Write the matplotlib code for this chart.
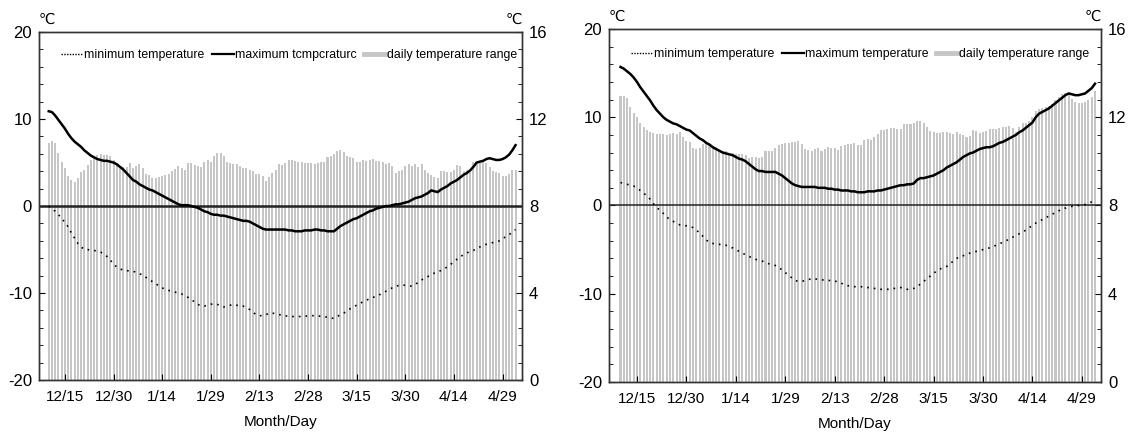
import matplotlib
matplotlib.use('Agg')
import matplotlib.pyplot as plt
from matplotlib.lines import Line2D
from matplotlib.ticker import MultipleLocator

plt.rcParams['font.family'] = ['Liberation Sans', 'DejaVu Sans']
plt.rcParams['axes.unicode_minus'] = False

# Days counted from 12/10 (day 0) to 5/3 (day 144)
tick_days = [5, 20, 35, 50, 65, 80, 95, 110, 125, 140]
tick_labels = ['12/15', '12/30', '1/14', '1/29', '2/13', '2/28', '3/15', '3/30', '4/14', '4/29']

# Left station
left_tmax = [10.9, 10.8, 10.4, 9.9, 9.4, 8.9, 8.3, 7.8, 7.4, 7.1,
             6.8, 6.4, 6.1, 5.8, 5.6, 5.4, 5.3, 5.2, 5.2, 5.1,
             5.0, 4.8, 4.5, 4.2, 3.8, 3.4, 3.0, 2.8, 2.5, 2.3,
             2.1, 1.9, 1.8, 1.6, 1.4, 1.2, 1.0, 0.8, 0.6, 0.4,
             0.2, 0.1, 0.1, 0.1, 0.0, -0.1, -0.2, -0.4, -0.6, -0.7,
             -0.9, -1.0, -1.0, -1.1, -1.1, -1.2, -1.3, -1.4, -1.5, -1.6,
             -1.7, -1.7, -1.8, -2.0, -2.2, -2.4, -2.6, -2.7, -2.7, -2.7,
             -2.7, -2.7, -2.7, -2.7, -2.8, -2.8, -2.9, -2.9, -2.9, -2.8,
             -2.8, -2.8, -2.7, -2.7, -2.8, -2.8, -2.9, -2.9, -2.9, -2.6,
             -2.3, -2.1, -1.9, -1.7, -1.5, -1.4, -1.2, -1.0, -0.8, -0.6,
             -0.5, -0.3, -0.2, -0.1, 0.0, 0.0, 0.1, 0.2, 0.2, 0.3,
             0.4, 0.5, 0.7, 0.9, 1.0, 1.1, 1.3, 1.5, 1.8, 1.7,
             1.6, 1.9, 2.1, 2.3, 2.6, 2.8, 3.0, 3.3, 3.6, 3.8,
             4.1, 4.5, 5.0, 5.1, 5.2, 5.4, 5.5, 5.4, 5.3, 5.3,
             5.4, 5.6, 5.9, 6.4, 7.0]
left_tmin = [0.0, -0.3, -0.6, -1.0, -1.4, -1.9, -2.4, -3.1, -3.7, -4.3,
             -4.7, -5.0, -5.0, -5.1, -5.1, -5.2, -5.3, -5.5, -5.8, -6.2,
             -6.7, -7.0, -7.2, -7.4, -7.4, -7.5, -7.5, -7.6, -7.8, -7.9,
             -8.2, -8.4, -8.7, -8.9, -9.2, -9.4, -9.6, -9.7, -9.8, -9.9,
             -10.0, -10.1, -10.3, -10.5, -10.8, -11.0, -11.3, -11.5, -11.5, -11.4,
             -11.3, -11.2, -11.3, -11.5, -11.6, -11.5, -11.4, -11.3, -11.4, -11.5,
             -11.5, -11.7, -11.9, -12.2, -12.5, -12.6, -12.6, -12.5, -12.3, -12.3,
             -12.4, -12.5, -12.5, -12.6, -12.7, -12.7, -12.7, -12.7, -12.7, -12.7,
             -12.6, -12.6, -12.6, -12.6, -12.7, -12.7, -12.8, -12.9, -12.9, -12.7,
             -12.5, -12.3, -12.1, -11.8, -11.6, -11.4, -11.2, -11.0, -10.8, -10.7,
             -10.5, -10.4, -10.2, -10.0, -9.8, -9.6, -9.4, -9.3, -9.1, -9.1,
             -9.1, -9.2, -9.2, -9.0, -8.8, -8.5, -8.3, -8.1, -7.9, -7.7,
             -7.6, -7.4, -7.2, -7.0, -6.7, -6.4, -6.1, -5.8, -5.6, -5.4,
             -5.2, -5.1, -4.9, -4.7, -4.5, -4.4, -4.3, -4.2, -4.1, -4.0,
             -3.8, -3.5, -3.3, -3.0, -2.7]
left_range = [10.88, 11.0, 10.88, 10.44, 10.04, 9.76, 9.36, 9.2, 9.12, 9.28,
              9.56, 9.68, 9.88, 10.12, 10.28, 10.36, 10.4, 10.36, 10.36, 10.28,
              10.12, 10.0, 9.84, 9.8, 9.8, 10.0, 9.76, 9.84, 9.92, 9.76,
              9.48, 9.44, 9.28, 9.28, 9.32, 9.36, 9.44, 9.48, 9.6, 9.72,
              9.84, 9.76, 9.68, 10.0, 10.0, 9.88, 9.84, 9.8, 10.04, 10.12,
              10.04, 10.28, 10.44, 10.44, 10.28, 10.04, 10.0, 9.92, 9.92, 9.84,
              9.76, 9.76, 9.68, 9.6, 9.48, 9.48, 9.4, 9.16, 9.32, 9.52,
              9.68, 9.92, 9.88, 10.0, 10.12, 10.12, 10.08, 10.04, 10.04, 10.0,
              10.0, 10.0, 9.92, 10.0, 10.04, 10.04, 10.24, 10.28, 10.4, 10.52,
              10.56, 10.48, 10.32, 10.24, 10.2, 10.04, 10.04, 10.12, 10.08, 10.12,
              10.16, 10.08, 10.08, 10.04, 9.92, 10.0, 9.84, 9.52, 9.6, 9.68,
              9.84, 9.92, 9.84, 9.92, 9.8, 9.92, 9.64, 9.52, 9.44, 9.32,
              9.28, 9.6, 9.6, 9.56, 9.56, 9.64, 9.88, 9.84, 9.6, 9.68,
              9.68, 10.04, 10.04, 10.0, 10.04, 10.0, 9.8, 9.6, 9.56, 9.52,
              9.4, 9.4, 9.48, 9.64, 9.64]

# Right station
right_tmax = [15.7, 15.5, 15.2, 14.9, 14.5, 14.0, 13.4, 12.9, 12.4, 11.9,
              11.3, 10.8, 10.4, 10.0, 9.7, 9.5, 9.3, 9.2, 9.0, 8.8,
              8.6, 8.5, 8.2, 7.9, 7.6, 7.4, 7.1, 6.9, 6.6, 6.4,
              6.2, 6.0, 5.9, 5.8, 5.7, 5.5, 5.3, 5.2, 5.0, 4.7,
              4.4, 4.1, 3.9, 3.9, 3.8, 3.8, 3.8, 3.8, 3.6, 3.4,
              3.1, 2.8, 2.5, 2.3, 2.2, 2.1, 2.1, 2.1, 2.1, 2.1,
              2.0, 2.0, 2.0, 1.9, 1.9, 1.8, 1.8, 1.7, 1.7, 1.7,
              1.6, 1.6, 1.5, 1.5, 1.5, 1.6, 1.6, 1.6, 1.7, 1.7,
              1.8, 1.9, 2.0, 2.1, 2.2, 2.3, 2.3, 2.4, 2.4, 2.5,
              2.9, 3.1, 3.1, 3.2, 3.3, 3.4, 3.6, 3.8, 4.0, 4.3,
              4.5, 4.7, 4.9, 5.2, 5.5, 5.7, 5.9, 6.0, 6.2, 6.4,
              6.5, 6.6, 6.6, 6.7, 6.9, 7.1, 7.2, 7.4, 7.6, 7.8,
              8.0, 8.3, 8.5, 8.8, 9.1, 9.4, 10.0, 10.4, 10.6, 10.8,
              11.0, 11.3, 11.6, 11.9, 12.2, 12.5, 12.7, 12.6, 12.5, 12.5,
              12.6, 12.7, 13.0, 13.3, 13.8]
right_tmin = [2.6, 2.5, 2.4, 2.3, 2.2, 2.0, 1.7, 1.4, 1.1, 0.7,
              0.2, -0.2, -0.6, -0.9, -1.3, -1.6, -1.8, -2.0, -2.2, -2.3,
              -2.3, -2.4, -2.5, -2.8, -3.1, -3.5, -3.9, -4.2, -4.3, -4.4,
              -4.4, -4.5, -4.5, -4.7, -4.8, -5.0, -5.2, -5.4, -5.6, -5.8,
              -5.9, -6.1, -6.2, -6.3, -6.5, -6.6, -6.7, -6.8, -7.0, -7.3,
              -7.6, -7.9, -8.2, -8.5, -8.6, -8.6, -8.5, -8.4, -8.3, -8.3,
              -8.4, -8.4, -8.5, -8.5, -8.5, -8.6, -8.6, -8.8, -9.0, -9.1,
              -9.1, -9.2, -9.2, -9.2, -9.3, -9.3, -9.3, -9.4, -9.4, -9.5,
              -9.5, -9.5, -9.5, -9.4, -9.4, -9.3, -9.4, -9.5, -9.5, -9.4,
              -9.2, -8.9, -8.6, -8.3, -8.0, -7.7, -7.4, -7.2, -7.0, -6.9,
              -6.6, -6.3, -6.0, -5.8, -5.7, -5.5, -5.4, -5.3, -5.2, -5.1,
              -5.0, -4.9, -4.8, -4.7, -4.5, -4.3, -4.2, -4.0, -3.8, -3.6,
              -3.4, -3.2, -3.0, -2.8, -2.5, -2.3, -2.0, -1.8, -1.6, -1.4,
              -1.2, -1.0, -0.8, -0.6, -0.4, -0.3, -0.2, -0.1, 0.0, 0.0,
              0.1, 0.1, 0.3, 0.4, 0.5]
right_range = [12.98, 12.98, 12.88, 12.48, 12.18, 12.0, 11.76, 11.56, 11.44, 11.32,
               11.28, 11.24, 11.24, 11.24, 11.2, 11.24, 11.28, 11.24, 11.32, 11.12,
               10.94, 10.88, 10.6, 10.56, 10.6, 10.8, 10.92, 10.8, 10.68, 10.64,
               10.52, 10.48, 10.48, 10.4, 10.36, 10.34, 10.34, 10.32, 10.28, 10.16,
               10.2, 10.2, 10.16, 10.2, 10.46, 10.46, 10.48, 10.6, 10.72, 10.8,
               10.82, 10.82, 10.88, 10.88, 10.94, 10.8, 10.56, 10.52, 10.48, 10.56,
               10.6, 10.46, 10.56, 10.64, 10.6, 10.6, 10.52, 10.68, 10.72, 10.8,
               10.8, 10.82, 10.76, 10.76, 10.96, 11.02, 10.96, 11.1, 11.24, 11.4,
               11.4, 11.48, 11.52, 11.52, 11.48, 11.48, 11.7, 11.7, 11.7, 11.72,
               11.82, 11.84, 11.72, 11.56, 11.36, 11.32, 11.28, 11.28, 11.32, 11.32,
               11.28, 11.24, 11.32, 11.24, 11.2, 11.12, 11.16, 11.44, 11.36, 11.28,
               11.32, 11.36, 11.48, 11.48, 11.48, 11.52, 11.56, 11.56, 11.62, 11.52,
               11.32, 11.56, 11.72, 11.76, 11.84, 12.0, 12.28, 12.38, 12.42, 12.48,
               12.52, 12.6, 12.76, 12.92, 13.04, 13.08, 13.06, 12.84, 12.68, 12.64,
               12.64, 12.68, 12.76, 12.92, 13.2]


def plot_panel(fig, rect, tmax, tmin, trange, max_label, xlim, zero_lw, legend_y):
    days = list(range(len(tmax)))

    ax1 = fig.add_axes(rect)
    ax2 = ax1.twinx()

    # daily range as bars on the right-hand scale
    ax2.bar(days, trange, width=0.62, color='#c6c6c6', linewidth=0)
    ax2.set_ylim(0, 16)
    ax2.yaxis.set_major_locator(MultipleLocator(4))
    ax2.yaxis.set_minor_locator(MultipleLocator(0.8))

    # temperatures on the left-hand scale, drawn above the bars
    ax1.set_zorder(ax2.get_zorder() + 1)
    ax1.patch.set_visible(False)
    ax1.axhline(0, color='#222222', linewidth=zero_lw)
    ax1.plot(days, tmin, color='black', linewidth=1.2, linestyle=(0, (1, 3)))
    ax1.plot(days, tmax, color='black', linewidth=1.8)
    ax1.set_ylim(-20, 20)
    ax1.yaxis.set_major_locator(MultipleLocator(10))
    ax1.yaxis.set_minor_locator(MultipleLocator(2))

    ax1.set_xlim(*xlim)
    ax1.set_xticks(tick_days)
    ax1.set_xticklabels(tick_labels)
    ax1.set_xlabel('Month/Day', fontsize=11, labelpad=8)

    for ax in (ax1, ax2):
        ax.tick_params(which='both', direction='in', labelsize=12, pad=5)
        ax.tick_params(which='major', length=4)
        ax.tick_params(which='minor', length=3)
        for sp in ax.spines.values():
            sp.set_color('#333333')
            sp.set_linewidth(1.0)
    ax1.tick_params(axis='x', labelsize=11, pad=7)

    ax1.text(0.0, 1.015, '℃', transform=ax1.transAxes, ha='left', va='bottom',
             fontsize=10.5, family=['DejaVu Sans'])
    ax1.text(1.0, 1.015, '℃', transform=ax1.transAxes, ha='right', va='bottom',
             fontsize=10.5, family=['DejaVu Sans'])

    handles = [Line2D([], [], color='black', linewidth=1.0, linestyle=(0, (1, 1))),
               Line2D([], [], color='black', linewidth=1.6),
               Line2D([], [], color='#c6c6c6', linewidth=3.5)]
    labels = ['minimum temperature', max_label, 'daily temperature range']
    ax1.legend(handles, labels, loc='upper left', bbox_to_anchor=(0.035, legend_y),
               ncol=3, frameon=False, fontsize=8.8, handlelength=1.8,
               handletextpad=0.1, columnspacing=0.6, borderaxespad=0)
    return ax1, ax2


fig = plt.figure(figsize=(11.37, 4.36), dpi=100)
plot_panel(fig, [0.0343, 0.1284, 0.4248, 0.798], left_tmax, left_tmin, left_range,
           'maximum tcmpcraturc', (-3, 146), 1.8, 0.965)
plot_panel(fig, [0.5356, 0.1239, 0.4327, 0.8096], right_tmax, right_tmin, right_range,
           'maximum temperature', (-3.5, 145.8), 1.1, 0.96)

fig.savefig('out.png', dpi=100)
